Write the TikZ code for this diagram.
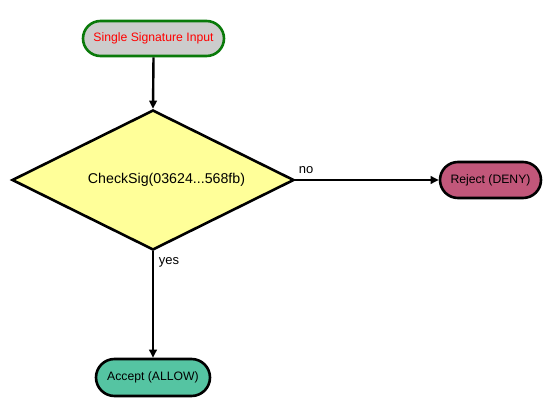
\documentclass[tikz,border=0pt]{standalone}
\usepackage{fontspec}
\setmainfont{Liberation Sans}
\usetikzlibrary{shapes.geometric,shapes.misc,arrows.meta}
\definecolor{termgray}{HTML}{CCCCCC}
\definecolor{termgreen}{HTML}{0A7A0A}
\definecolor{decyellow}{HTML}{FFFF99}
\definecolor{rejfill}{HTML}{C2577A}
\definecolor{accfill}{HTML}{55C4A2}
\tikzset{
  term/.style={rounded rectangle, draw=black, line width=2.6pt, inner sep=0pt, font=\fontsize{12.2}{14}\selectfont},
  conn/.style={line width=2.4pt, -{Triangle[length=8pt,width=7.5pt]}},
  lbl/.style={font=\fontsize{13}{15}\selectfont, inner sep=0pt}
}
\begin{document}
\begin{tikzpicture}[x=1pt,y=-1pt]
\useasboundingbox (0,0) rectangle (548,406);
\node[term, draw=termgreen, fill=termgray, text=red, minimum width=141pt, minimum height=35pt] (start) at (153.5,38.5) {Single Signature Input};
\node[diamond, draw=black, line width=2.6pt, fill=decyellow, minimum width=282pt, minimum height=140pt, inner sep=0pt, aspect=2.014] (dec) at (153,180) {};
\node[font=\fontsize{14.2}{16}\selectfont, inner sep=0pt] (dectext) at (166.5,180) {CheckSig(03624...568fb)};
\node[term, fill=rejfill, minimum width=101pt, minimum height=36pt] (rej) at (490.5,180) {Reject (DENY)};
\node[term, fill=accfill, minimum width=114pt, minimum height=37pt] (acc) at (153,377.5) {Accept (ALLOW)};
\draw[conn] (start.south) -- (dec.north);
\draw[conn] (dec.east) -- (rej.west);
\draw[conn] (dec.south) -- (acc.north);
\node[lbl] (nolbl) at (306,170) {no};
\node[lbl] (yeslbl) at (169,262) {yes};
\end{tikzpicture}
\end{document}
